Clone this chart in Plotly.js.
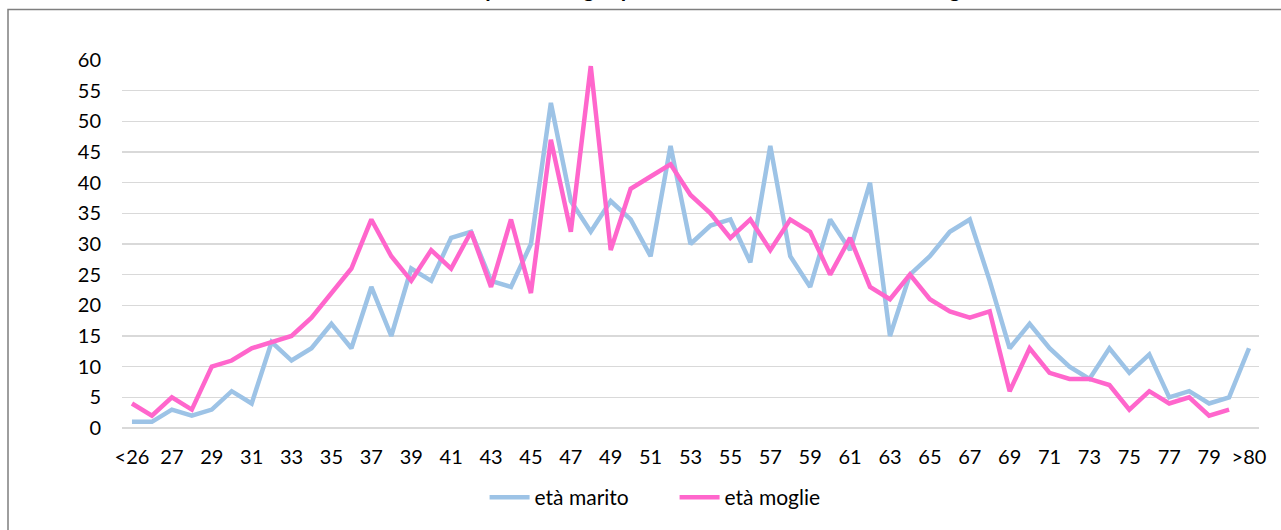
<!DOCTYPE html>
<html>
<head>
<meta charset="utf-8">
<script src="https://cdn.plot.ly/plotly-3.0.1.min.js"></script>
<style>
  html, body { margin: 0; padding: 0; background: #ffffff; }
  #chart { width: 1281px; height: 530px; }
</style>
</head>
<body>
<div id="chart"></div>
<script>
// Categories (age classes)
const categories = ["<26","26","27","28","29","30","31","32","33","34","35","36","37","38","39","40",
  "41","42","43","44","45","46","47","48","49","50","51","52","53","54","55","56","57","58","59","60",
  "61","62","63","64","65","66","67","68","69","70","71","72","73","74","75","76","77","78","79","80",">80"];

// età marito
const husbandAges = [1,1,3,2,3,6,4,14,11,13,17,13,23,15,26,24,31,32,24,23,30,53,37,32,37,34,28,46,30,33,
  34,27,46,28,23,34,29,40,15,25,28,32,34,24,13,17,13,10,8,13,9,12,5,6,4,5,13];

// età moglie
const wifeAges = [4,2,5,3,10,11,13,14,15,18,22,26,34,28,24,29,26,32,23,34,22,47,32,59,29,39,41,43,38,35,
  31,34,29,34,32,25,31,23,21,25,21,19,18,19,6,13,9,8,8,7,3,6,4,5,2,3];

const seriesNames = ["età marito", "età moglie"];
const titleText = "Distribuzione per età degli sposi: età del marito e età della moglie";

const tickVals = categories.filter((c, i) => i % 2 === 0);

const FONT = "Lato, 'Open Sans', 'Liberation Sans', sans-serif";

const traces = [
  {
    type: "scatter", mode: "lines", name: seriesNames[0],
    x: categories, y: husbandAges,
    line: { color: "#9DC3E6", width: 4.5, shape: "linear" },
    cliponaxis: false
  },
  {
    type: "scatter", mode: "lines", name: seriesNames[1],
    x: categories, y: wifeAges,
    line: { color: "#FF66CC", width: 4.5, shape: "linear" },
    cliponaxis: false
  }
];

const layout = {
  width: 1281, height: 530,
  margin: { l: 122, r: 22, t: 60, b: 99 },
  paper_bgcolor: "#ffffff",
  plot_bgcolor: "#ffffff",
  font: { family: FONT, size: 20, color: "#000000" },
  title: {
    text: "<b>" + titleText + "</b>",
    font: { family: FONT, size: 22, color: "#000000" },
    x: 0.52, xanchor: "center",
    xref: "container", yref: "container",
    y: 1, yanchor: "bottom",
    pad: { b: 3 }
  },
  showlegend: true,
  legend: {
    orientation: "h",
    x: 0.486, xanchor: "center",
    y: -0.189, yanchor: "middle",
    font: { family: FONT, size: 21, color: "#000000" },
    itemwidth: 40,
    entrywidth: 135,
    traceorder: "normal",
    bgcolor: "rgba(0,0,0,0)"
  },
  xaxis: {
    type: "category",
    range: [-0.5, categories.length - 0.5],
    tickmode: "array",
    tickvals: tickVals,
    ticktext: tickVals,
    tickangle: 0,
    showgrid: false,
    zeroline: false,
    showline: false,
    ticks: "",
    ticklabelstandoff: 15,
    tickfont: { family: FONT, size: 20, color: "#000000" },
    fixedrange: true
  },
  yaxis: {
    range: [0, 60],
    tickmode: "linear",
    tick0: 0, dtick: 5,
    showgrid: true,
    gridcolor: "#D9D9D9",
    gridwidth: 1.3,
    zeroline: true,
    zerolinecolor: "#D9D9D9",
    zerolinewidth: 1.3,
    showline: false,
    ticks: "",
    ticklabelstandoff: 20,
    tickfont: { family: FONT, size: 20, color: "#000000" },
    fixedrange: true
  },
  shapes: [
    {
      type: "rect", xref: "paper", yref: "paper",
      x0: (8 - 122) / 1137, x1: 1.2,
      y0: -0.5, y1: (431 - 9) / 371,
      line: { color: "#7F7F7F", width: 1.5 },
      fillcolor: "rgba(0,0,0,0)",
      layer: "below"
    }
  ]
};

Plotly.newPlot("chart", traces, layout, { displayModeBar: false, staticPlot: true });
</script>
</body>
</html>
